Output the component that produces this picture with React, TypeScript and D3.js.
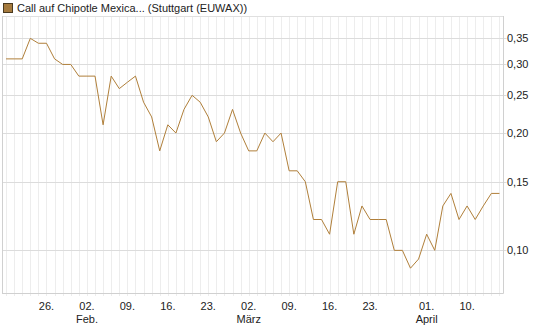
import React from "react";
import * as d3 from "d3";

const values: number[] = [
  0.31, 0.31, 0.31, 0.35, 0.34, 0.34, 0.31, 0.30, 0.30, 0.28,
  0.28, 0.28, 0.21, 0.28, 0.26, 0.27, 0.28, 0.24, 0.22, 0.18,
  0.21, 0.20, 0.23, 0.25, 0.24, 0.22, 0.19, 0.20, 0.23, 0.20,
  0.18, 0.18, 0.20, 0.19, 0.20, 0.16, 0.16, 0.15, 0.12, 0.12,
  0.11, 0.15, 0.15, 0.11, 0.13, 0.12, 0.12, 0.12, 0.10, 0.10,
  0.09, 0.095, 0.11, 0.10, 0.13, 0.14, 0.12, 0.13, 0.12, 0.13,
  0.14, 0.14,
];

const xTickIndex: number[] = [5, 10, 15, 20, 25, 30, 35, 40, 45, 52, 57];
const xTickLabels: string[] = ["26.", "02.", "09.", "16.", "23.", "02.", "09.", "16.", "23.", "01.", "10."];
const monthIndex: number[] = [10, 30, 52];
const monthLabels: string[] = ["Feb.", "März", "April"];
const yTicks: number[] = [0.1, 0.15, 0.2, 0.25, 0.3, 0.35];

const title = "Call auf Chipotle Mexica... (Stuttgart (EUWAX))";

export default function App() {
  const W = 545, H = 327;
  const left = 2, right = 503.5, top = 16, bottom = 293.5;
  const x = d3.scaleLinear().domain([-0.5, values.length - 0.5]).range([left, right]);
  const y = d3.scaleLog().domain([0.0775, 0.3994]).range([bottom, top]);
  const line = d3.line<number>().x((_, i) => x(i)).y((d) => y(d));
  const font = "'Liberation Sans', Arial, sans-serif";
  const fmt = (v: number) => v.toFixed(2).replace(".", ",");

  return (
    <svg width={W} height={H} style={{ position: "absolute", left: 0, top: 0, background: "#fff" }}>
      {values.map((_, i) => (
        <line key={"vg" + i} x1={Math.round(x(i)) + 0.5} x2={Math.round(x(i)) + 0.5} y1={top} y2={bottom + 2.5} stroke="#ededed" strokeWidth={1} />
      ))}
      {yTicks.map((t) => (
        <line key={"hg" + t} x1={left} x2={right + 3} y1={Math.round(y(t)) + 0.5} y2={Math.round(y(t)) + 0.5} stroke="#dcdcdc" strokeWidth={1} />
      ))}
      <line x1={left} x2={right} y1={top + 0.5} y2={top + 0.5} stroke="#e0e0e0" />
      <line x1={left + 0.5} x2={left + 0.5} y1={top} y2={bottom} stroke="#d0d0d0" />
      <line x1={right} x2={right} y1={top} y2={bottom} stroke="#d0d0d0" />
      <line x1={left} x2={right} y1={bottom} y2={bottom} stroke="#d0d0d0" />
      <path d={line(values) || ""} fill="none" stroke="#b07f3a" strokeWidth={1} />
      {yTicks.map((t) => (
        <text key={"yt" + t} x={507} y={y(t) + 4} fontSize={11} fontFamily={font} fill="#222">{fmt(t)}</text>
      ))}
      {xTickIndex.map((idx, k) => (
        <text key={"xt" + k} x={x(idx)} y={310} fontSize={11} fontFamily={font} fill="#222" textAnchor="middle">{xTickLabels[k]}</text>
      ))}
      {monthIndex.map((idx, k) => (
        <text key={"mt" + k} x={x(idx)} y={323} fontSize={11} fontFamily={font} fill="#222" textAnchor="middle">{monthLabels[k]}</text>
      ))}
      <rect x={3.5} y={3.5} width={9} height={9} fill="#a57a3e" stroke="#4a3a20" strokeWidth={1} />
      <text x={17} y={12} fontSize={11} fontFamily={font} fill="#222">{title}</text>
    </svg>
  );
}
